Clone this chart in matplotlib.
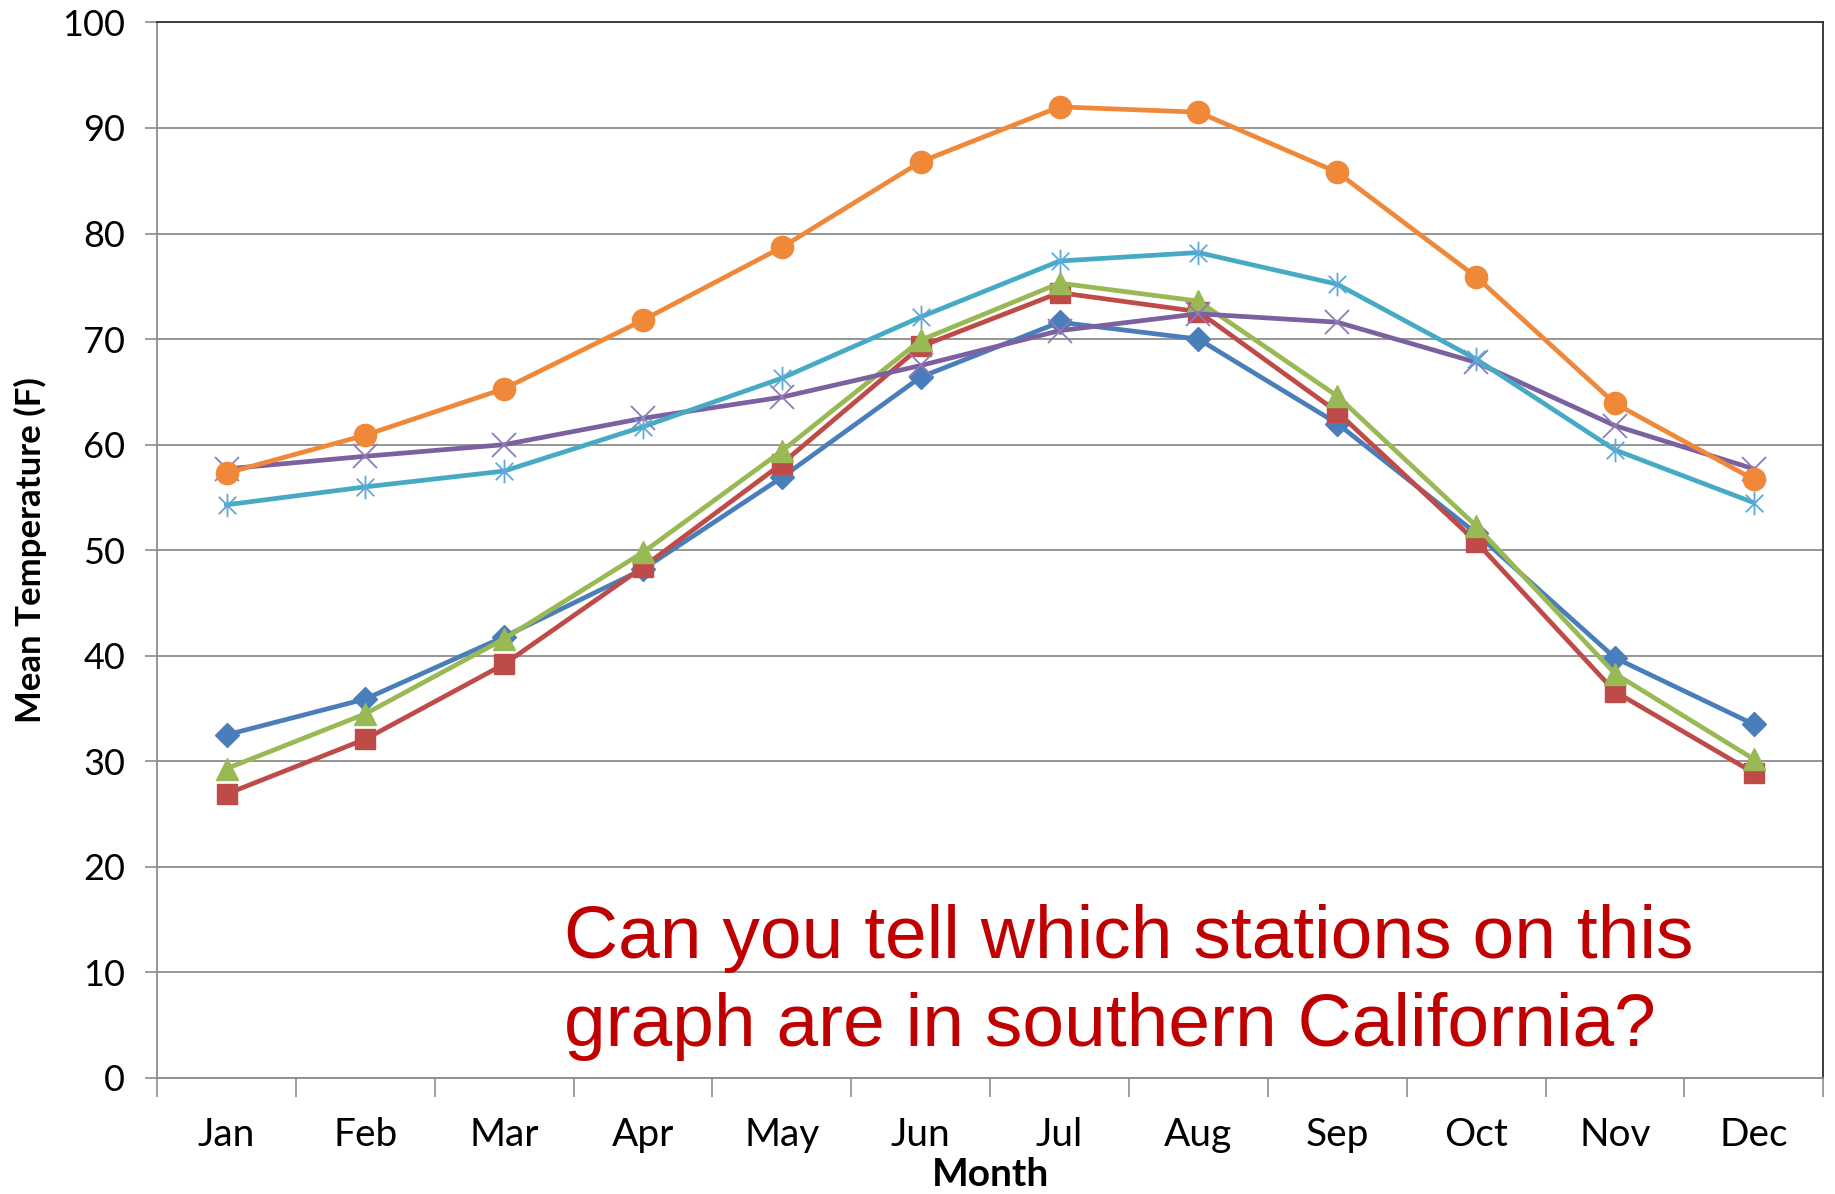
import matplotlib
matplotlib.use("Agg")
import matplotlib.pyplot as plt
from matplotlib.path import Path

plt.rcParams['font.family'] = ['Lato', 'DejaVu Sans']

months = ["Jan", "Feb", "Mar", "Apr", "May", "Jun",
          "Jul", "Aug", "Sep", "Oct", "Nov", "Dec"]

# mean monthly temperature (F), one list per station
blue_diamond = [32.5, 35.9, 41.8, 48.2, 56.9, 66.4, 71.6, 70.0, 62.0, 51.6, 39.8, 33.5]
red_square = [26.9, 32.1, 39.2, 48.4, 58.2, 69.3, 74.4, 72.6, 63.1, 50.8, 36.6, 28.9]
green_triangle = [29.3, 34.5, 41.6, 49.8, 59.4, 69.9, 75.3, 73.6, 64.6, 52.3, 38.3, 30.2]
purple_x = [57.7, 58.9, 60.0, 62.5, 64.5, 67.5, 70.8, 72.4, 71.6, 67.8, 61.8, 57.7]
teal_star = [54.3, 56.0, 57.5, 61.7, 66.3, 72.1, 77.4, 78.2, 75.2, 68.1, 59.5, 54.5]
orange_circle = [57.3, 60.9, 65.3, 71.8, 78.7, 86.8, 92.0, 91.5, 85.8, 75.9, 63.9, 56.7]

question = "Can you tell which stations on this\ngraph are in southern California?"

# excel style asterisk: an x with a vertical bar through it
star = Path([(-1, -1), (1, 1), (-1, 1), (1, -1), (0, -1.35), (0, 1.35)],
            [Path.MOVETO, Path.LINETO, Path.MOVETO, Path.LINETO, Path.MOVETO, Path.LINETO])

fig = plt.figure(figsize=(18.35, 11.94), dpi=100)
ax = fig.add_axes([0.0856, 0.0972, 0.908, 0.884])

x = list(range(len(months)))
lw = 3.4
ax.plot(x, blue_diamond, color="#4A7EBB", lw=lw, marker="D", ms=12, zorder=3)
ax.plot(x, red_square, color="#BE4B48", lw=lw, marker="s", ms=15, zorder=4)
ax.plot(x, green_triangle, color="#98B954", lw=lw, marker="^", ms=16, zorder=5)
ax.plot(x, purple_x, color="#7D60A0", lw=lw, marker="x", ms=17, mew=1.3,
        mec="#8E7BB8", zorder=6)
ax.plot(x, teal_star, color="#46AAC5", lw=lw, marker=star, ms=17, mew=1.3,
        mec="#5FA8D8", zorder=7)
ax.plot(x, orange_circle, color="#F0883A", lw=lw, marker="o", ms=16, zorder=8)

ax.set_xlim(-0.5, 11.5)
ax.set_ylim(0, 100)
ax.set_yticks(range(0, 101, 10))
ax.grid(axis="y", color="#8c8c8c", lw=1.3)
ax.set_axisbelow(True)

# month labels centred on the points, tick marks between them
ax.set_xticks([i + 0.5 for i in range(-1, 12)])
ax.set_xticklabels([])
ax.set_xticks(x, minor=True)
ax.set_xticklabels(months, minor=True)
ax.tick_params(axis="x", which="major", length=14, width=1.2, color="#8c8c8c", direction="out")
ax.tick_params(axis="x", which="minor", length=0, pad=28, labelsize=28)
ax.tick_params(axis="y", length=9, width=1.2, color="#8c8c8c", pad=14, labelsize=26)

for side in ["left", "bottom"]:
    ax.spines[side].set_color("#8c8c8c")
    ax.spines[side].set_linewidth(1.3)
for side in ["top", "right"]:
    ax.spines[side].set_color("#303030")
    ax.spines[side].set_linewidth(1.3)

ax.set_xlabel("Month", fontsize=28, fontweight="bold", labelpad=3)
ax.set_ylabel("Mean Temperature (F)", fontsize=25, fontweight="bold", labelpad=11)

ax.text(0.244, 0.030, question, transform=ax.transAxes, color="#C00000",
        fontsize=54, family="Liberation Sans", linespacing=1.35,
        va="baseline", ha="left")

fig.savefig("out.png", dpi=100)
